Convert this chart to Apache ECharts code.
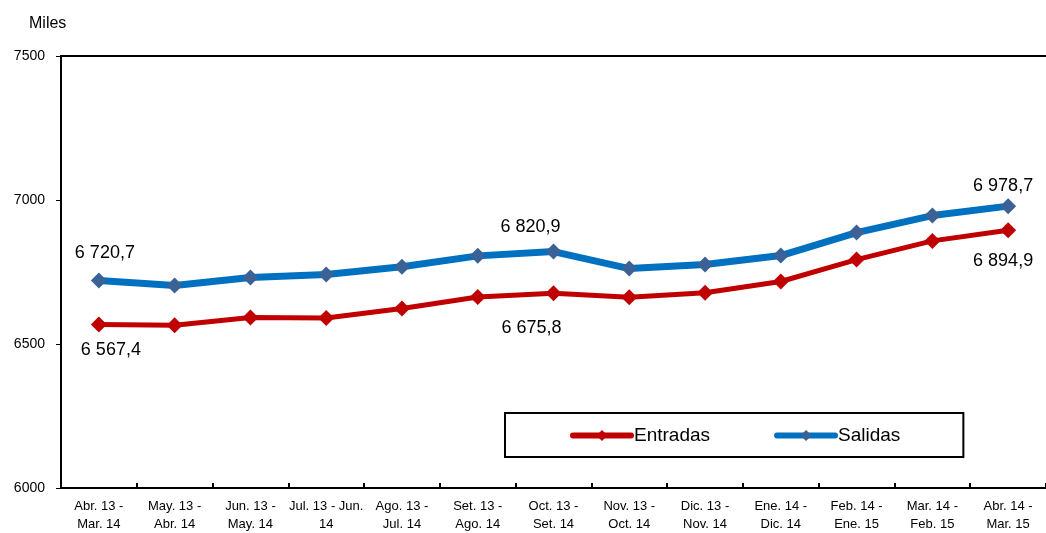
<!DOCTYPE html>
<html>
<head>
<meta charset="utf-8">
<script src="https://cdn.jsdelivr.net/npm/echarts@6/dist/echarts.min.js"></script>
<style>
  html, body { margin: 0; padding: 0; background: #fff; overflow: hidden; }
  #chart { width: 1046px; height: 533px; }
</style>
</head>
<body>
<div id="chart"></div>
<script>
// categories (rolling 12-month windows)
const categories = [
    "Abr. 13 -\nMar. 14", "May. 13 -\nAbr. 14", "Jun. 13 -\nMay. 14", "Jul. 13 - Jun.\n14",
    "Ago. 13 -\nJul. 14", "Set. 13 -\nAgo. 14", "Oct. 13 -\nSet. 14", "Nov. 13 -\nOct. 14",
    "Dic. 13 -\nNov. 14", "Ene. 14 -\nDic. 14", "Feb. 14 -\nEne. 15", "Mar. 14 -\nFeb. 15",
    "Abr. 14 -\nMar. 15",
];

// values in thousands
const entradas = [6567.4, 6565, 6592, 6590, 6623, 6663, 6675.8, 6662, 6678, 6717, 6793, 6858, 6894.9];
const salidas = [6720.7, 6703, 6731, 6741, 6768, 6806, 6820.9, 6762, 6776, 6807, 6887, 6946, 6978.7];

// which points carry a label, and where
const entradasLabels = { 0: "bottom", 6: "bottom", 12: "bottom" };
const salidasLabels = { 0: "top", 6: "top", 12: "top" };

const yTicks = [6000, 6500, 7000, 7500];

function fmt(v) {
    const [i, d] = v.toFixed(1).split(".");
    return i.replace(/\B(?=(\d{3})+(?!\d))/g, " ") + "," + d;
}

function withLabels(values, where, offset) {
    return values.map((v, i) => {
        if (!where[i]) return v;
        return {
            value: v,
            label: { show: true, position: where[i], distance: 12, offset: offset(i) },
        };
    });
}

const chart = echarts.init(document.getElementById("chart"));

chart.setOption({
    animation: false,
    textStyle: { fontFamily: "Liberation Sans, Arial, sans-serif" },
    grid: {
        // plot area runs past the right edge of the picture
        left: 61, right: -3, top: 56, bottom: 43,
    },
    title: {
        text: "Miles",
        left: 24, top: 11,
        textStyle: { fontSize: 16, fontWeight: "normal", color: "#000", fontFamily: "Liberation Sans, Arial, sans-serif" },
    },
    legend: {
        left: 505, top: 413,
        padding: [13, 63, 12, 65],
        itemGap: 64,
        itemWidth: 58, itemHeight: 14,
        borderColor: "#000", borderWidth: 2,
        lineStyle: { width: 6, cap: "round" },
        textStyle: { fontSize: 19, color: "#000", padding: [0, 0, 0, -2] },
        data: ["Entradas", "Salidas"],
    },
    xAxis: [
        {
            type: "category",
            data: categories,
            boundaryGap: true,
            axisLine: { lineStyle: { color: "#000", width: 2 } },
            axisTick: { show: true, inside: true, length: 5, lineStyle: { color: "#000", width: 2 } },
            axisLabel: { interval: 0, fontSize: 13, color: "#000", margin: 9, lineHeight: 18 },
        },
        {
            // top frame line only
            type: "category",
            data: categories,
            position: "top",
            axisLine: { lineStyle: { color: "#000", width: 2 } },
            axisTick: { show: false },
            axisLabel: { show: false },
        },
    ],
    yAxis: {
        type: "value",
        min: 6000, max: 7500, interval: 500,
        axisLine: { show: true, lineStyle: { color: "#000", width: 2 } },
        axisTick: { show: true, length: 5, lineStyle: { color: "#000", width: 1 } },
        axisLabel: {
            fontSize: 14, color: "#000", margin: 16,
            formatter: (v) => (yTicks.includes(v) ? String(v) : ""),
        },
        splitLine: { show: false },
    },
    series: [
        {
            name: "Entradas",
            type: "line",
            data: withLabels(entradas, entradasLabels, (i) => (i === 0 ? [12, -4] : i === 12 ? [-5, 2] : [-22, 6])),
            symbol: "diamond",
            symbolSize: 16,
            lineStyle: { color: "#C00000", width: 5 },
            itemStyle: { color: "#C00000" },
            label: { fontSize: 18, color: "#000", formatter: (p) => fmt(p.value) },
            z: 3,
        },
        {
            name: "Salidas",
            type: "line",
            data: withLabels(salidas, salidasLabels, (i) => (i === 0 ? [6, 2] : i === 12 ? [-5, 9] : [-23, 4])),
            symbol: "diamond",
            symbolSize: 16,
            lineStyle: { color: "#0070C0", width: 7 },
            itemStyle: { color: "#3A6296" },
            label: { fontSize: 18, color: "#000", formatter: (p) => fmt(p.value) },
            z: 4,
        },
    ],
});
</script>
</body>
</html>
